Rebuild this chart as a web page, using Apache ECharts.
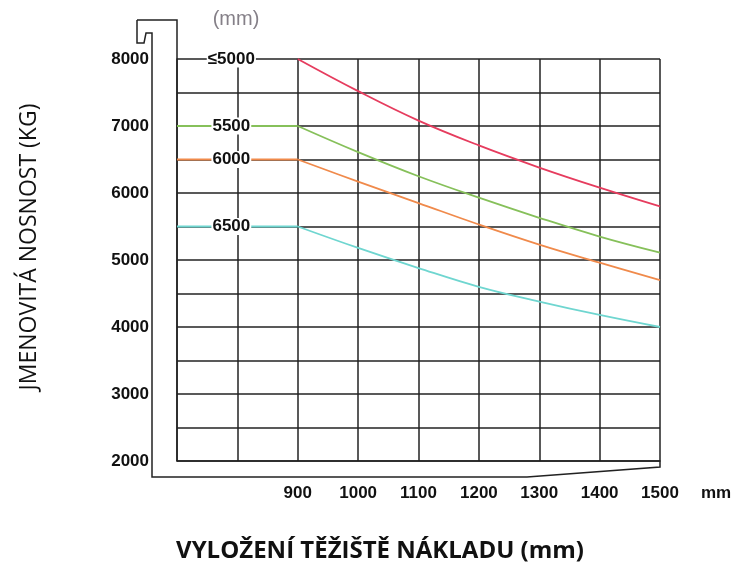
<!DOCTYPE html>
<html>
<head>
<meta charset="utf-8">
<title>Nosnost</title>
<script src="https://cdn.jsdelivr.net/npm/echarts@6/dist/echarts.min.js"></script>
<style>
    html, body { margin: 0; padding: 0; background: #fff; }
    #chart { width: 734px; height: 578px; }
</style>
</head>
<body>
<div id="chart"></div>
<script>
(function () {
    'use strict';

    // load centre distance (mm) where the curves start falling
    var reach = [900, 1000, 1100, 1200, 1300, 1400, 1500];
    var flatFrom = 700;
    var labelAt = 790;

    // curve labels = lift height, flat rated load before 900 mm
    var curveNames = ['≤5000', '5500', '6000', '6500'];
    var flatLoads = [8000, 7000, 6500, 5500];
    var hasFlat = [false, true, true, true];
    var curveColors = ['#e63c5e', '#86c05a', '#f08a4b', '#6fd6d0'];

    var load5000 = [8000, 7520, 7080, 6710, 6380, 6080, 5800];
    var load5500 = [7000, 6610, 6250, 5930, 5630, 5350, 5110];
    var load6000 = [6500, 6170, 5850, 5530, 5230, 4960, 4700];
    var load6500 = [5500, 5180, 4880, 4600, 4380, 4180, 4000];
    var curves = [load5000, load5500, load6000, load6500];

    var tickFont = "'Liberation Sans', Arial, sans-serif";
    var gridLine = { color: '#222', width: 1.5 };

    var chart = echarts.init(document.getElementById('chart'));

    var series = [];
    curves.forEach(function (vals, i) {
        if (hasFlat[i]) {
            series.push({
                type: 'line',
                symbol: 'none',
                lineStyle: { color: curveColors[i], width: 1.8 },
                data: [[flatFrom, flatLoads[i]], [reach[0], flatLoads[i]]]
            });
        }
        series.push({
            type: 'line',
            symbol: 'none',
            smooth: 0.4,
            lineStyle: { color: curveColors[i], width: 1.8 },
            data: reach.map(function (x, j) { return [x, vals[j]]; }),
            markPoint: {
                symbol: 'rect',
                symbolSize: 0,
                silent: true,
                label: {
                    show: true,
                    position: 'inside',
                    formatter: curveNames[i],
                    color: '#111',
                    fontFamily: tickFont,
                    fontWeight: 'bold',
                    fontSize: 17,
                    backgroundColor: '#fff',
                    padding: [0, 1]
                },
                data: [{ coord: [labelAt, flatLoads[i]] }]
            }
        });
    });

    var frame = { stroke: '#222', lineWidth: 1.5, fill: null };

    chart.setOption({
        animation: false,
        backgroundColor: '#fff',
        grid: { left: 177, right: 74, top: 59, bottom: 117 },
        xAxis: {
            type: 'value',
            min: 700,
            max: 1500,
            interval: 100,
            axisLine: { show: true, lineStyle: gridLine },
            axisTick: { show: false },
            splitLine: { show: true, lineStyle: gridLine },
            axisLabel: {
                margin: 24,
                color: '#111',
                fontFamily: tickFont,
                fontWeight: 'bold',
                fontSize: 17,
                formatter: function (v) { return v < 900 ? '' : v; }
            }
        },
        yAxis: {
            type: 'value',
            min: 2000,
            max: 8000,
            interval: 500,
            axisLine: { show: true, lineStyle: gridLine },
            axisTick: { show: false },
            splitLine: { show: true, lineStyle: gridLine },
            axisLabel: {
                margin: 28,
                color: '#111',
                fontFamily: tickFont,
                fontWeight: 'bold',
                fontSize: 17,
                formatter: function (v) { return v % 1000 ? '' : v; }
            }
        },
        graphic: [
            // mast-like frame around the grid
            { type: 'polyline', silent: true, shape: { points: [[137, 20], [177, 20], [177, 59]] }, style: frame },
            {
                type: 'polyline', silent: true,
                shape: { points: [[137, 20], [137, 43], [144, 43], [146, 33], [152, 33], [152, 477], [527, 477], [660, 467], [660, 461]] },
                style: frame
            },
            { type: 'text', silent: true, x: 236, y: 19, style: { text: '(mm)', fill: '#858088', font: '20px "Liberation Sans", sans-serif', align: 'center', verticalAlign: 'middle' } },
            { type: 'text', silent: true, x: 716, y: 493, style: { text: 'mm', fill: '#111', font: 'bold 17px ' + tickFont, align: 'center', verticalAlign: 'middle' } },
            {
                type: 'text', silent: true, x: 29, y: 247, rotation: Math.PI / 2,
                style: { text: 'JMENOVITÁ NOSNOST (KG)', fill: '#111', font: '23px "Open Sans", sans-serif', align: 'center', verticalAlign: 'middle' }
            },
            {
                type: 'text', silent: true, x: 380, y: 551,
                style: { text: 'VYLOŽENÍ TĚŽIŠTĚ NÁKLADU (mm)', fill: '#111', font: 'bold 24px "Open Sans", sans-serif', align: 'center', verticalAlign: 'middle' }
            }
        ],
        series: series
    });
})();
</script>
</body>
</html>
